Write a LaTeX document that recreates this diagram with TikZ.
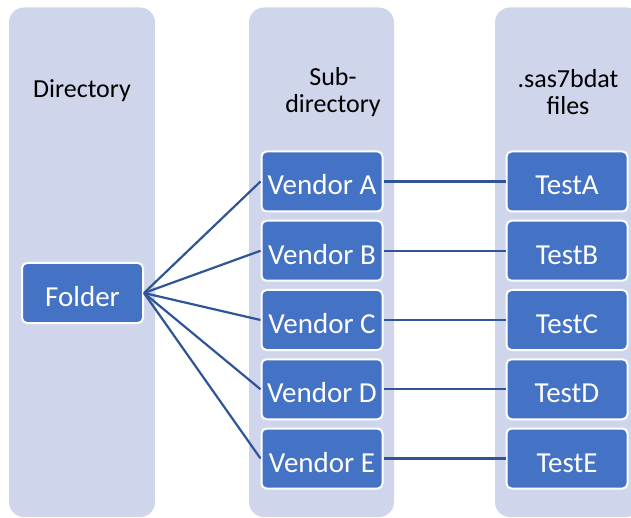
\documentclass[tikz,border=0pt]{standalone}
\usepackage{fontspec}
\setmainfont{Carlito}
\definecolor{colfill}{RGB}{207,213,234}
\definecolor{boxblue}{RGB}{68,114,196}
\definecolor{linkblue}{RGB}{47,85,151}
\tikzset{
  column/.style={fill=colfill, rounded corners=15pt},
  bluebox/.style={rectangle, rounded corners=5pt, fill=boxblue, draw=white, line width=2pt,
    minimum width=121pt, minimum height=60pt, text=white, font=\fontsize{29}{32}\selectfont,
    inner sep=0pt, text height=27pt, text depth=0pt},
  heading/.style={align=center, font=\fontsize{26}{27}\selectfont, text=black},
  link/.style={draw=linkblue, line width=2.2pt}
}
\begin{document}
\begin{tikzpicture}[x=1pt,y=-1pt]
\useasboundingbox (0,0) rectangle (631,518);
\clip (0,0) rectangle (631,518);
\fill[column] (9,7.5) rectangle (155,517);
\fill[column] (249,7.5) rectangle (394,517);
\fill[column] (495,7.5) rectangle (641,517);
\node[heading] (h1) at (82,91) {Directory};
\node[heading] (h2) at (333,92) {Sub-\\directory};
\node[heading] (h3) at (568,92) {.sas7bdat\\files};
\node[bluebox] (folder) at (82.5,293) {Folder};
\node[bluebox] (va) at (322,181.5) {Vendor A};
\node[bluebox] (vb) at (322,250.75) {Vendor B};
\node[bluebox] (vc) at (322,320) {Vendor C};
\node[bluebox] (vd) at (322,389.25) {Vendor D};
\node[bluebox] (ve) at (322,458.5) {Vendor E};
\node[bluebox] (ta) at (567,181.5) {TestA};
\node[bluebox] (tb) at (567,250.75) {TestB};
\node[bluebox] (tc) at (567,320) {TestC};
\node[bluebox] (td) at (567,389.25) {TestD};
\node[bluebox] (te) at (567,458.5) {TestE};
\foreach \v in {va,vb,vc,vd,ve} \draw[link] (folder.east) -- (\v.west);
\draw[link] (va.east) -- (ta.west);
\draw[link] (vb.east) -- (tb.west);
\draw[link] (vc.east) -- (tc.west);
\draw[link] (vd.east) -- (td.west);
\draw[link] (ve.east) -- (te.west);
\end{tikzpicture}
\end{document}
